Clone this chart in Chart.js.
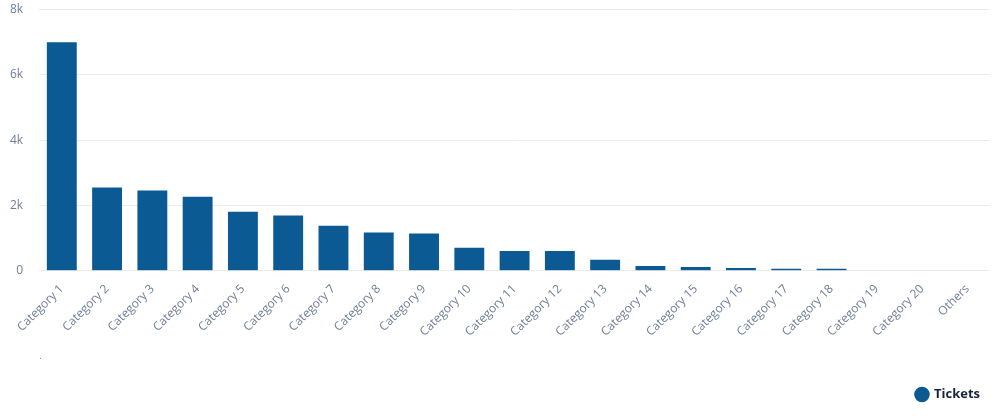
<!DOCTYPE html>
<html>
<head>
<meta charset="utf-8">
<script src="https://cdn.jsdelivr.net/npm/chart.js@4/dist/chart.umd.min.js"></script>
<style>
  html, body { margin: 0; padding: 0; background: #ffffff; }
  #wrap { width: 1000px; height: 420px; position: relative; }
</style>
</head>
<body>
<div id="wrap"><canvas id="c"></canvas></div>
<script>
const categories = ["Category 1","Category 2","Category 3","Category 4","Category 5","Category 6","Category 7","Category 8","Category 9","Category 10","Category 11","Category 12","Category 13","Category 14","Category 15","Category 16","Category 17","Category 18","Category 19","Category 20","Others"];
const tickets = [7000,2550,2460,2270,1810,1690,1380,1170,1140,710,610,610,340,150,120,90,60,60,0,0,0];
const yTicks = [0,2000,4000,6000,8000];
const seriesName = "Tickets";

const fontFamily = "'Open Sans', 'Noto Sans', sans-serif";
const tickColor = "#6f7e96";

new Chart(document.getElementById('c'), {
  type: 'bar',
  data: {
    labels: categories,
    datasets: [{
      label: seriesName,
      data: tickets,
      backgroundColor: '#0b5a93',
      borderWidth: 0,
      barPercentage: 0.66,
      categoryPercentage: 1.0
    }]
  },
  options: {
    responsive: true,
    maintainAspectRatio: false,
    animation: false,
    layout: { padding: { top: 0, right: 10, left: -6, bottom: 9 } },
    scales: {
      x: {
        grid: { display: false, drawTicks: false },
        border: { display: false },
        ticks: {
          color: tickColor,
          font: { family: fontFamily, size: 12 },
          maxRotation: 45, minRotation: 45,
          autoSkip: false,
          padding: 11
        },
        title: {
          display: true,
          text: '.',
          align: 'start',
          color: tickColor,
          font: { family: fontFamily, size: 9 },
          padding: { top: 1, bottom: 16 }
        }
      },
      y: {
        min: 0, max: 8000,
        afterBuildTicks: (axis) => { axis.ticks = yTicks.map(v => ({ value: v })); },
        afterFit: (axis) => { axis.paddingTop = 9.5; axis.paddingBottom = 8; },
        grid: { color: '#ececec', drawTicks: false, lineWidth: 1 },
        border: { display: false },
        ticks: {
          color: tickColor,
          font: { family: fontFamily, size: 12 },
          padding: 16,
          callback: (v) => v === 0 ? '0' : (v / 1000) + 'k'
        }
      }
    },
    plugins: {
      legend: {
        position: 'bottom',
        align: 'end',
        labels: {
          usePointStyle: true,
          pointStyle: 'circle',
          boxWidth: 11, boxHeight: 11,
          color: '#17233d',
          font: { family: fontFamily, size: 13, weight: 'bold' },
          padding: 10
        }
      },
      tooltip: { enabled: false }
    }
  }
});
</script>
</body>
</html>
